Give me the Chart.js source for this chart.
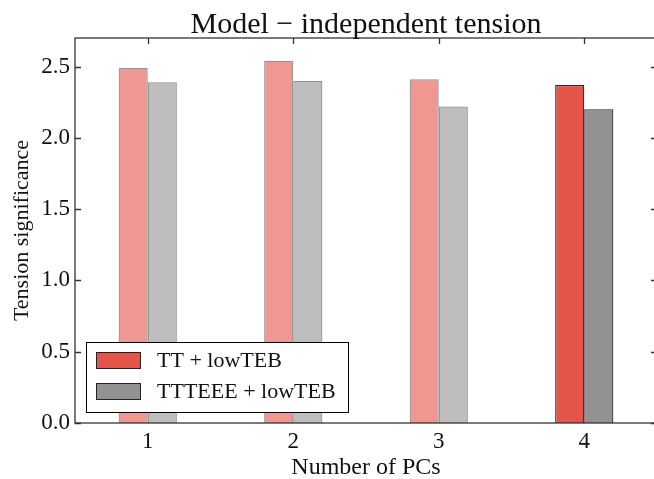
<!DOCTYPE html>
<html>
<head>
<meta charset="utf-8">
<script src="https://cdn.jsdelivr.net/npm/chart.js@4.4.0/dist/chart.umd.min.js"></script>
<style>
  body { margin: 0; background: #fff; overflow: hidden; }
  #wrap { width: 660px; height: 479px; }
</style>
</head>
<body>
<div id="wrap"><canvas id="tensionChart"></canvas></div>
<script>
// data
var pcLabels = ['1', '2', '3', '4'];
var ttLowTEB = [2.49, 2.54, 2.41, 2.37];
var ttteeeLowTEB = [2.39, 2.40, 2.22, 2.20];
var yTicks = [0.0, 0.5, 1.0, 1.5, 2.0, 2.5];
var yMax = 2.7;

var titleText = 'Model \u2212 independent tension';
var serif = '"Liberation Serif", "DejaVu Serif", serif';

// first three bars are faded, the last pair is solid
var redFaded = 'rgba(228,84,72,0.6)', redSolid = 'rgb(228,84,72)';
var grayFaded = 'rgba(146,146,146,0.6)', graySolid = 'rgb(146,146,146)';
var edgeFaded = 'rgba(40,40,40,0.5)', edgeSolid = 'rgb(40,40,40)';

function perBar(faded, solid) {
    return pcLabels.map(function(l, i) { return i === pcLabels.length - 1 ? solid : faded; });
}

// frame, inward ticks, title and the legend box inside the plot
var framePlugin = {
    id: 'frame',
    afterDatasetsDraw: function(chart) {
        var ctx = chart.ctx, a = chart.chartArea;
        var xs = chart.scales.x, ys = chart.scales.y;
        ctx.save();
        ctx.strokeStyle = '#333';
        ctx.lineWidth = 1.3;
        ctx.strokeRect(a.left, a.top, a.right - a.left, a.bottom - a.top);
        ctx.beginPath();
        yTicks.forEach(function(v) {
            var y = Math.round(ys.getPixelForValue(v)) + 0.5;
            ctx.moveTo(a.left, y); ctx.lineTo(a.left + 6, y);
            ctx.moveTo(a.right, y); ctx.lineTo(a.right - 6, y);
        });
        pcLabels.forEach(function(l, i) {
            var x = Math.round(xs.getPixelForTick(i)) + 0.5;
            ctx.moveTo(x, a.top); ctx.lineTo(x, a.top + 6);
        });
        ctx.stroke();

        // title centred over the axes
        ctx.fillStyle = '#111';
        ctx.font = '30px ' + serif;
        ctx.textAlign = 'center';
        ctx.textBaseline = 'alphabetic';
        ctx.fillText(titleText, (a.left + a.right) / 2, a.top - 5);

        // legend
        var bx = a.left + 11, by = a.bottom - 81, bw = 262, bh = 70;
        ctx.fillStyle = '#fff';
        ctx.fillRect(bx, by, bw, bh);
        ctx.strokeStyle = '#000';
        ctx.lineWidth = 1;
        ctx.strokeRect(bx + 0.5, by + 0.5, bw, bh);
        ctx.font = '22px ' + serif;
        ctx.textAlign = 'left';
        ctx.textBaseline = 'middle';
        chart.data.datasets.forEach(function(ds, i) {
            var sy = by + 10 + i * 31;
            var last = ds.backgroundColor.length - 1;
            ctx.fillStyle = ds.backgroundColor[last];
            ctx.fillRect(bx + 10, sy, 44, 16);
            ctx.strokeStyle = '#222';
            ctx.strokeRect(bx + 10.5, sy + 0.5, 44, 16);
            ctx.fillStyle = '#111';
            ctx.fillText(ds.label, bx + 71, sy + 9);
        });
        ctx.restore();
    }
};

var ctx = document.getElementById('tensionChart');
var tensionChart = new Chart(ctx, {
    type: 'bar',
    data: {
        labels: pcLabels,
        datasets: [{
            label: 'TT + lowTEB',
            data: ttLowTEB,
            backgroundColor: perBar(redFaded, redSolid),
            borderColor: perBar(edgeFaded, edgeSolid),
            borderWidth: 1.2
        }, {
            label: 'TTTEEE + lowTEB',
            data: ttteeeLowTEB,
            backgroundColor: perBar(grayFaded, graySolid),
            borderColor: perBar(edgeFaded, edgeSolid),
            borderWidth: 1.2
        }]
    },
    options: {
        responsive: true,
        maintainAspectRatio: false,
        animation: false,
        categoryPercentage: 0.4,
        barPercentage: 1.0,
        layout: { padding: { top: 38, left: 0, right: 3, bottom: 0 } },
        plugins: {
            legend: { display: false },
            title: { display: false },
            tooltip: { enabled: false }
        },
        scales: {
            x: {
                offset: true,
                grid: { display: false, drawTicks: false },
                border: { display: false },
                ticks: { color: '#111', font: { family: serif, size: 23 }, padding: 5, maxRotation: 0 },
                title: {
                    display: true, text: 'Number of PCs', color: '#111',
                    font: { family: serif, size: 24, lineHeight: 0.9 }, padding: 0
                },
                afterFit: function(scale) { scale.height = 56; }
            },
            y: {
                min: 0,
                max: yMax,
                grid: { display: false, drawTicks: false },
                border: { display: false },
                afterBuildTicks: function(axis) {
                    axis.ticks = yTicks.map(function(v) { return { value: v }; });
                },
                ticks: {
                    color: '#111',
                    font: { family: serif, size: 23 },
                    padding: 5,
                    callback: function(v) { return Number(v).toFixed(1); }
                },
                title: {
                    display: true, text: 'Tension significance', color: '#111',
                    font: { family: serif, size: 22 }, padding: { top: 9, bottom: 0 }
                },
                afterFit: function(scale) { scale.width = 75; }
            }
        }
    },
    plugins: [framePlugin]
});
</script>
</body>
</html>
